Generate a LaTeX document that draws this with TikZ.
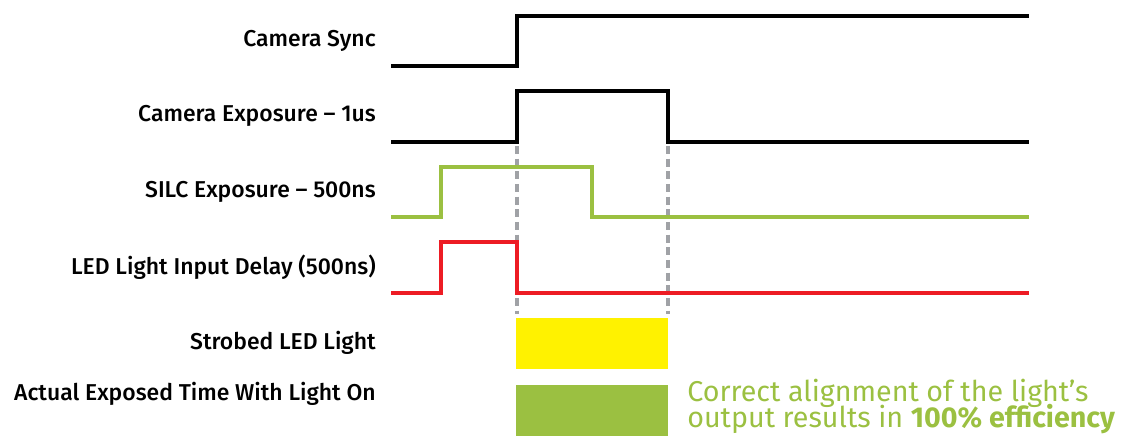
\documentclass[tikz,border=0pt]{standalone}
\usepackage{fontspec}
\setmainfont{Fira Sans}
\newfontfamily\labelfont{Fira Sans Medium}
\usetikzlibrary{positioning}
\definecolor{sigGreen}{RGB}{155,192,65}
\definecolor{sigRed}{RGB}{237,28,36}
\definecolor{sigYellow}{RGB}{255,242,0}
\definecolor{sigGray}{RGB}{160,162,166}
\tikzset{
 wave/.style={line width=3pt,miter limit=10},
 guide/.style={sigGray,line width=2.4pt,dash pattern=on 6pt off 3.5pt},
 label/.style={anchor=east,inner sep=0pt,font=\labelfont\fontsize{17.2}{18}\selectfont},
 note/.style={anchor=north west,inner sep=0pt,align=left,sigGreen,
  font=\fontsize{21.5}{19.2}\selectfont\setlength{\lineskiplimit}{-30pt}\setlength{\lineskip}{0pt}}
}
\begin{document}
\begin{tikzpicture}[x=0.75pt,y=-0.75pt]
 \useasboundingbox (0,0) rectangle (1127,441);
 \node[label] (sync) at (376,41) {Camera Sync};
 \node[label] (expo) at (376,116) {Camera Exposure – 1us};
 \node[label] (silc) at (376,192) {SILC Exposure – 500ns};
 \node[label] (led) at (376,267) {LED Light Input Delay (500ns)};
 \node[label] (strobe) at (376,343) {Strobed LED Light};
 \node[label] (actual) at (376,394) {Actual Exposed Time With Light On};
 \draw[guide] (517,146) -- (517,314);
 \draw[guide] (668,146) -- (668,314);
 \draw[wave] (391,66) -- (517,66) -- (517,16) -- (1029,16);
 \draw[wave] (391,142) -- (517,142) -- (517,91) -- (668,91) -- (668,142) -- (1029,142);
 \draw[wave,sigGreen] (391,217) -- (441,217) -- (441,167) -- (592,167) -- (592,217) -- (1029,217);
 \draw[wave,sigRed] (391,293) -- (441,293) -- (441,242) -- (517,242) -- (517,293) -- (1029,293);
 \fill[sigYellow] (516,318) rectangle (668,369);
 \fill[sigGreen] (516,385) rectangle (668,436);
 \node[note] (note) at (687,379) {Correct alignment of the light’s\\output results in \textbf{100\% efficiency}};
\end{tikzpicture}
\end{document}
